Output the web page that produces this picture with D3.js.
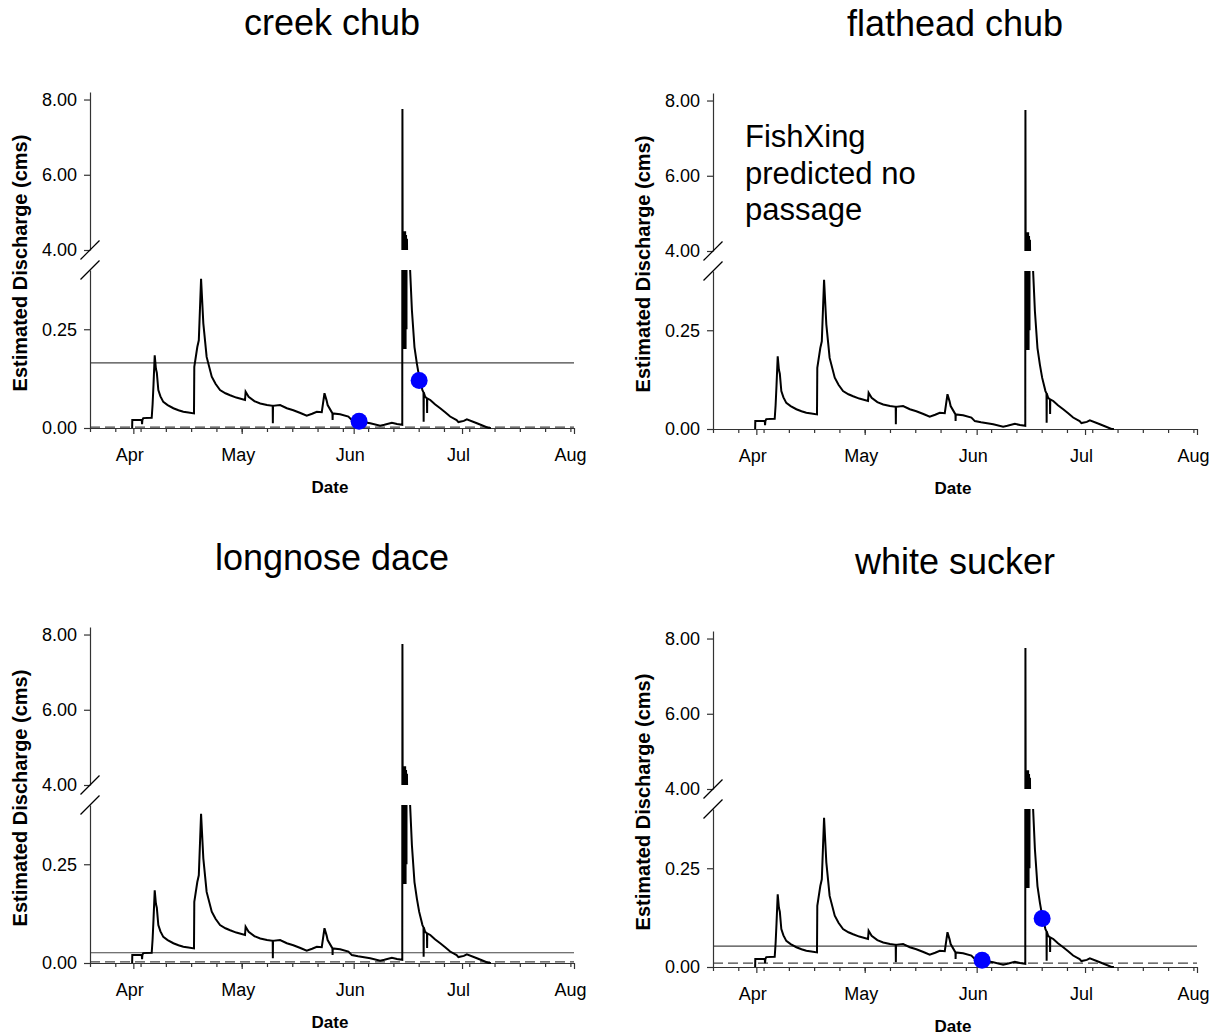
<!DOCTYPE html>
<html>
<head>
<meta charset="utf-8">
<script src="https://cdn.jsdelivr.net/npm/d3@7"></script>
<style>
  body { margin: 0; background: #fff; }
  text { font-family: Arial, "Liberation Sans", sans-serif; fill: #000; }
</style>
</head>
<body>
<svg id="chart" width="1220" height="1036"></svg>
<script>
// ---- data -------------------------------------------------------------
const species = ["creek chub", "flathead chub", "longnose dace", "white sucker"];

// Estimated discharge hydrograph (cms), shared by all four panels
const flowTimes = [
  "2009-03-31 16", "2009-03-31 17", "2009-04-03 08", "2009-04-03 10", "2009-04-03 12",
  "2009-04-03 18", "2009-04-06 02", "2009-04-06 08", "2009-04-06 14", "2009-04-06 22",
  "2009-04-07 06", "2009-04-07 12", "2009-04-07 22", "2009-04-08 12", "2009-04-09 07",
  "2009-04-10 12", "2009-04-12 02", "2009-04-13 12", "2009-04-14 20", "2009-04-16 06",
  "2009-04-17 19", "2009-04-17 21", "2009-04-18 17", "2009-04-19 03", "2009-04-19 18",
  "2009-04-20 09", "2009-04-21 07", "2009-04-22 17", "2009-04-23 18", "2009-04-25 00",
  "2009-04-26 12", "2009-04-27 19", "2009-04-29 12", "2009-05-01 22", "2009-05-02 02",
  "2009-05-02 22", "2009-05-04 12", "2009-05-06 03", "2009-05-08 00", "2009-05-09 14",
  "2009-05-09 15", "2009-05-09 16", "2009-05-11 15", "2009-05-13 12", "2009-05-15 07",
  "2009-05-17 06", "2009-05-19 00", "2009-05-20 12", "2009-05-21 19", "2009-05-23 04",
  "2009-05-23 22", "2009-05-24 12", "2009-05-24 19", "2009-05-26 03", "2009-05-26 04",
  "2009-05-26 05", "2009-05-28 06", "2009-05-30 13", "2009-05-31 12", "2009-06-02 05",
  "2009-06-05 14", "2009-06-08 08", "2009-06-09 12", "2009-06-11 14", "2009-06-13 00",
  "2009-06-14 11", "2009-06-14 12", "2009-06-14 15", "2009-06-14 18", "2009-06-14 21",
  "2009-06-15 00", "2009-06-15 03", "2009-06-15 06", "2009-06-15 09", "2009-06-15 12",
  "2009-06-15 15", "2009-06-15 18", "2009-06-16 03", "2009-06-16 15", "2009-06-17 03",
  "2009-06-17 20", "2009-06-18 12", "2009-06-19 03", "2009-06-20 01", "2009-06-20 08",
  "2009-06-20 09", "2009-06-20 10", "2009-06-20 19", "2009-06-21 07", "2009-06-21 08",
  "2009-06-21 09", "2009-06-22 05", "2009-06-23 12", "2009-06-24 23", "2009-06-26 08",
  "2009-06-27 17", "2009-06-29 12", "2009-06-30 00", "2009-07-01 12", "2009-07-02 08",
  "2009-07-05 03", "2009-07-08 08", "2009-07-09 00"
];
const flowValues = [
  0.000, 0.020, 0.020, 0.010, 0.020,
  0.025, 0.026, 0.060, 0.110, 0.184,
  0.150, 0.140, 0.096, 0.080, 0.066,
  0.058, 0.050, 0.045, 0.041, 0.039,
  0.037, 0.155, 0.205, 0.222, 0.378,
  0.265, 0.180, 0.130, 0.112, 0.096,
  0.088, 0.083, 0.077, 0.071, 0.092,
  0.079, 0.068, 0.062, 0.058, 0.056,
  0.012, 0.056, 0.058, 0.050, 0.045,
  0.038, 0.031, 0.036, 0.041, 0.040,
  0.088, 0.070, 0.058, 0.037, 0.020,
  0.037, 0.035, 0.029, 0.020, 0.017,
  0.012, 0.006, 0.008, 0.013, 0.010,
  0.008, 7.750, 0.200, 4.500, 0.200,
  4.450, 0.220, 4.500, 0.200, 4.400,
  0.250, 4.300, 1.200, 0.400, 0.298,
  0.205, 0.163, 0.130, 0.096, 0.090,
  0.016, 0.090, 0.079, 0.075, 0.038,
  0.075, 0.071, 0.060, 0.050, 0.040,
  0.029, 0.020, 0.015, 0.018, 0.022,
  0.012, 0.000, 0.000
];

// Passage thresholds per species (solid = upper, dashed = lower); null = none
const upperThreshold = [0.165, null, 0.026, 0.053];
const lowerThreshold = [0.002, null, 0.003, 0.010];

// Observed passage events per species
const passageTimes  = [["2009-06-02 12", "2009-06-19 03"], [], [], ["2009-06-02 12", "2009-06-19 03"]];
const passageValues = [[0.017, 0.120], [], [], [0.017, 0.123]];

const noPassageNote = ["FishXing", "predicted no", "passage"];

// Axis ticks
const upperTicks  = [4, 6, 8];
const lowerTicks  = [0, 0.25];
const monthTicks  = ["2009-04-01", "2009-05-01", "2009-06-01", "2009-07-01", "2009-08-01"];
const monthLabels = ["Apr", "May", "Jun", "Jul", "Aug"];

// ---- layout -----------------------------------------------------------
const parseHour = d3.timeParse("%Y-%m-%d %H");
const parseDay  = d3.timeParse("%Y-%m-%d");
const flow = flowTimes.map((t, i) => ({ t: parseHour(t), v: flowValues[i] }));

const W = 484;          // plot width
const upperH = 158;     // upper (4-8.2) segment height
const gap = 20;         // axis break
const lowerTop = upperH + gap;
const zeroY = lowerTop + 158;

const panelOrigins = [[90, 92], [713, 93], [90, 627], [713, 631]];

const x = d3.scaleTime()
  .domain([parseDay("2009-03-20"), parseDay("2009-08-01")])
  .range([0, W]);
const yHigh = d3.scaleLinear().domain([4, 8.2]).range([upperH, 0]);
const yLow  = d3.scaleLinear().domain([0, 0.4]).range([zeroY, lowerTop]);

const svg = d3.select("#chart");
const axisColor = "#333";

species.forEach((name, i) => {
  const [ox, oy] = panelOrigins[i];
  const g = svg.append("g").attr("transform", `translate(${ox},${oy})`);

  // title
  g.append("text")
    .attr("x", W / 2).attr("y", -57)
    .attr("text-anchor", "middle")
    .style("font-size", "36px")
    .text(name);

  // y-axis title
  g.append("text")
    .attr("transform", `translate(-70,${(zeroY) / 2 + 3}) rotate(-90)`)
    .attr("text-anchor", "middle")
    .attr("dominant-baseline", "central")
    .style("font-size", "20px").style("font-weight", "bold")
    .text("Estimated Discharge (cms)");

  // clip regions for the two axis segments
  const cu = `clipU${i}`, cl = `clipL${i}`;
  const defs = g.append("defs");
  defs.append("clipPath").attr("id", cu)
    .append("rect").attr("x", -2).attr("y", 0).attr("width", W + 4).attr("height", upperH);
  defs.append("clipPath").attr("id", cl)
    .append("rect").attr("x", -2).attr("y", lowerTop).attr("width", W + 4).attr("height", zeroY - lowerTop + 2);

  // threshold lines
  if (upperThreshold[i] !== null) {
    g.append("line")
      .attr("x1", 0).attr("x2", W)
      .attr("y1", yLow(upperThreshold[i])).attr("y2", yLow(upperThreshold[i]))
      .attr("stroke", "#444").attr("stroke-width", 1.2);
  }
  if (lowerThreshold[i] !== null) {
    g.append("line")
      .attr("x1", 0).attr("x2", W)
      .attr("y1", yLow(lowerThreshold[i])).attr("y2", yLow(lowerThreshold[i]))
      .attr("stroke", "#444").attr("stroke-width", 1.2)
      .attr("stroke-dasharray", "10,5");
  }

  // axes
  const yAxisHigh = d3.axisLeft(yHigh).tickValues(upperTicks)
    .tickFormat(d3.format(".2f")).tickSize(6).tickSizeOuter(0).tickPadding(7);
  const yAxisLow = d3.axisLeft(yLow).tickValues(lowerTicks)
    .tickFormat(d3.format(".2f")).tickSize(6).tickSizeOuter(0).tickPadding(7);
  const xAxisMajor = d3.axisBottom(x).tickValues(monthTicks.map(parseDay))
    .tickFormat((d, k) => monthLabels[k]).tickSize(6).tickSizeOuter(0);
  const xAxisMinor = d3.axisBottom(x)
    .tickValues(d3.timeDay.range(parseDay("2009-03-20"), parseDay("2009-08-01"), 7))
    .tickFormat("").tickSize(4).tickSizeOuter(0);

  [g.append("g").call(yAxisHigh), g.append("g").call(yAxisLow)].forEach(a => {
    a.selectAll("text").style("font-size", "18px").attr("fill", "#000");
  });
  g.append("g").attr("transform", `translate(0,${zeroY})`).call(xAxisMinor);
  const xa = g.append("g").attr("transform", `translate(0,${zeroY})`).call(xAxisMajor);
  xa.selectAll(".tick text")
    .attr("y", 20).attr("dy", "0.71em").attr("dx", -4)
    .style("font-size", "18px").attr("fill", "#000");
  g.selectAll(".domain, .tick line").attr("stroke", axisColor).attr("stroke-width", 1.2);

  // axis break marks
  [upperH, lowerTop].forEach(yb => {
    g.append("line")
      .attr("x1", -9.5).attr("y1", yb + 9.5).attr("x2", 9.5).attr("y2", yb - 9.5)
      .attr("stroke", "#000").attr("stroke-width", 1.2);
  });

  // x-axis title
  g.append("text")
    .attr("x", W / 2 - 2).attr("y", zeroY + 65)
    .attr("text-anchor", "middle")
    .style("font-size", "17px").style("font-weight", "bold")
    .text("Date");

  // hydrograph in both segments
  const lineLow = d3.line().x(d => x(d.t)).y(d => yLow(d.v));
  const lineHigh = d3.line().x(d => x(d.t)).y(d => yHigh(d.v));
  g.append("path").datum(flow).attr("d", lineLow)
    .attr("clip-path", `url(#${cl})`)
    .attr("fill", "none").attr("stroke", "#000").attr("stroke-width", 2)
    .attr("stroke-linejoin", "miter");
  g.append("path").datum(flow).attr("d", lineHigh)
    .attr("clip-path", `url(#${cu})`)
    .attr("fill", "none").attr("stroke", "#000").attr("stroke-width", 2);

  // passage events
  g.selectAll("circle.pass")
    .data(passageTimes[i].map((t, k) => ({ t: parseHour(t), v: passageValues[i][k] })))
    .join("circle").attr("class", "pass")
    .attr("cx", d => x(d.t)).attr("cy", d => yLow(d.v))
    .attr("r", 8.5).attr("fill", "#0000ff");

  // note for species without predicted passage
  if (i === 1) {
    g.append("text")
      .attr("x", 32).attr("y", 54)
      .style("font-size", "31px")
      .selectAll("tspan").data(noPassageNote).join("tspan")
      .attr("x", 32).attr("dy", (d, k) => k === 0 ? 0 : 36.5)
      .text(d => d);
  }
});
</script>
</body>
</html>
